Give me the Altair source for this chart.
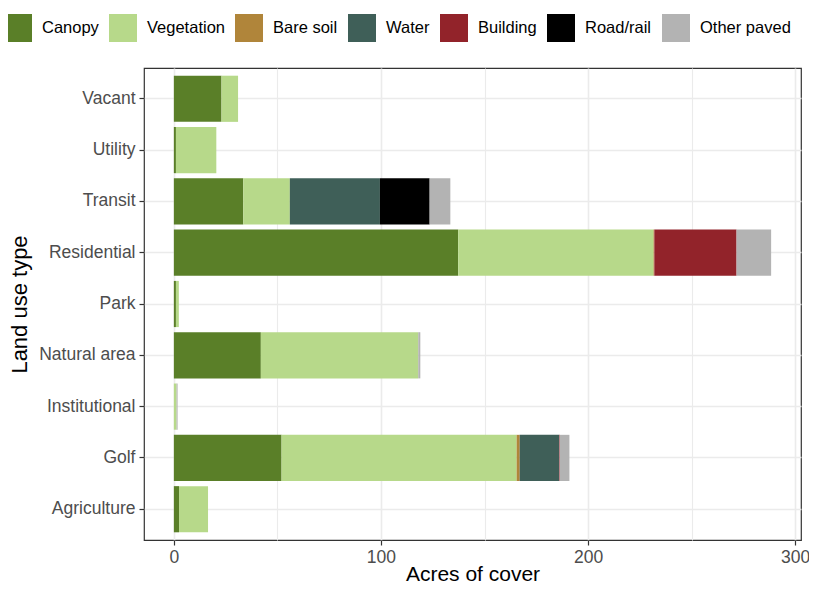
import altair as alt
import pandas as pd

land_use = ["Agriculture", "Golf", "Institutional", "Natural area", "Park",
            "Residential", "Transit", "Utility", "Vacant"]
cover_types = ["Canopy", "Vegetation", "Bare soil", "Water", "Building",
               "Road/rail", "Other paved"]
cover_colors = ["#5A7F28", "#B7D98A", "#B0853A", "#3F5F58", "#92232A",
                "#000000", "#B3B3B3"]

canopy = [2.5, 52.0, 0.0, 42.0, 1.0, 137.3, 33.5, 1.0, 23.0]
vegetation = [14.0, 113.5, 1.3, 76.0, 1.4, 94.3, 22.5, 19.5, 8.0]
bare_soil = [0.0, 1.5, 0.0, 0.0, 0.0, 0.4, 0.0, 0.0, 0.0]
water = [0.0, 19.0, 0.0, 0.0, 0.0, 0.0, 43.5, 0.0, 0.0]
building = [0.0, 0.3, 0.0, 0.0, 0.0, 39.7, 0.0, 0.0, 0.0]
road_rail = [0.0, 0.0, 0.0, 0.0, 0.0, 0.0, 24.0, 0.0, 0.0]
other_paved = [0.0, 4.7, 0.5, 1.0, 0.0, 16.7, 10.0, 0.0, 0.0]

series = [canopy, vegetation, bare_soil, water, building, road_rail, other_paved]

rows = []
for ci, (cname, vals) in enumerate(zip(cover_types, series)):
    for lu, v in zip(land_use, vals):
        rows.append({"land_use": lu, "cover": cname, "acres": v, "order": ci})
df = pd.DataFrame(rows)

totals = df.groupby("land_use")["acres"].sum()
mx = float(totals.max())
lo, hi = -0.05 * mx, 1.05 * mx

font = "Liberation Sans"

chart = alt.Chart(df).mark_bar(strokeWidth=0).encode(
    y=alt.Y("land_use:N", sort=list(reversed(land_use)),
            scale=alt.Scale(paddingInner=0.1, paddingOuter=0.15),
            axis=alt.Axis(title="Land use type", bandPosition=0.5, grid=True,
                          gridColor="#EBEBEB", gridWidth=1.6, domain=False,
                          tickColor="#333333", tickSize=5, tickWidth=1.2,
                          labelFontSize=17.5, labelColor="#4D4D4D",
                          labelPadding=4, titleFontSize=22, titleColor="#000000",
                          titleFontWeight="normal", titlePadding=7)),
    x=alt.X("acres:Q", stack="zero",
            scale=alt.Scale(domain=[lo, hi], nice=False, zero=False),
            axis=alt.Axis(title="Acres of cover",
                          values=[0, 50, 100, 150, 200, 250, 300],
                          labelExpr="datum.value % 100 === 0 ? datum.label : ''",
                          grid=True, gridColor="#EBEBEB",
                          gridWidth={"condition": {"test": "datum.value % 100 !== 0", "value": 1.1}, "value": 1.6},
                          tickColor={"condition": {"test": "datum.value % 100 !== 0", "value": "transparent"}, "value": "#333333"},
                          domain=False, tickSize=5, tickWidth=1.2,
                          labelFontSize=17.5, labelColor="#4D4D4D", labelPadding=3,
                          titleFontSize=21, titleColor="#000000",
                          titleFontWeight="normal", titleBaseline="alphabetic",
                          titleY=40)),
    color=alt.Color("cover:N",
                    scale=alt.Scale(domain=cover_types, range=cover_colors),
                    legend=alt.Legend(title=None, orient="none", legendX=-140, legendY=-54,
                                      direction="horizontal", columns=7,
                                      symbolType="square", symbolSize=784,
                                      symbolStrokeWidth=0, labelFontSize=16.5,
                                      labelColor="#000000", labelOffset=10,
                                      columnPadding=10, labelFont=font)),
    order=alt.Order("order:Q", sort="ascending"),
).properties(
    width=657, height=472,
    autosize=alt.AutoSizeParams(type="none"),
    padding={"left": 136, "top": 60, "right": 8, "bottom": 45},
).configure(font=font).configure_view(
    stroke="#333333", strokeWidth=1.2
).configure_axis(labelFont=font, titleFont=font)

chart.save("out.html", embed_options={"renderer": "svg", "actions": False})
